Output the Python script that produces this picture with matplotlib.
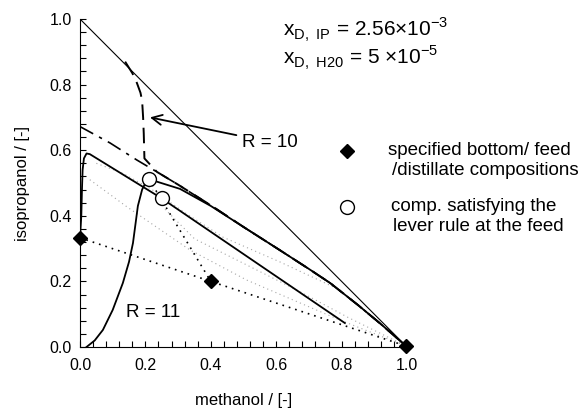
import matplotlib
matplotlib.use("Agg")
import matplotlib.pyplot as plt
from matplotlib.ticker import MultipleLocator, FormatStrFormatter

plt.rcParams['font.family'] = ['Liberation Sans', 'DejaVu Sans']
plt.rcParams['mathtext.fontset'] = 'custom'
plt.rcParams['mathtext.rm'] = 'Liberation Sans'

# ---- data ----
diag_x = [0.0, 1.0]
diag_y = [1.0, 0.0]

# R = 10 profile (dashed)
r10_x = [0.138, 0.16, 0.174, 0.185, 0.19, 0.193, 0.195, 0.197, 0.235, 0.30, 0.40, 0.50, 0.61, 0.70, 0.765, 0.85, 0.92, 0.997]
r10_y = [0.870, 0.835, 0.805, 0.775, 0.75, 0.70, 0.65, 0.575, 0.534, 0.495, 0.432, 0.366, 0.296, 0.238, 0.195, 0.128, 0.07, 0.003]

# dash-dot profile
dd_x = [0.0, 0.092, 0.174, 0.235, 0.30, 0.40, 0.50, 0.61, 0.70, 0.765, 0.85, 0.92, 0.997]
dd_y = [0.672, 0.622, 0.570, 0.534, 0.495, 0.432, 0.366, 0.296, 0.238, 0.195, 0.128, 0.07, 0.003]

# R = 11 stripping profile (solid)
r11s_x = [0.0, 0.004, 0.006, 0.008, 0.012, 0.02, 0.03, 0.25, 0.81]
r11s_y = [0.333, 0.40, 0.48, 0.54, 0.575, 0.59, 0.588, 0.453, 0.073]

# R = 11 rectifying profile (solid)
r11r_x = [0.02, 0.045, 0.07, 0.10, 0.131, 0.15, 0.162, 0.177, 0.19, 0.2, 0.211, 0.229, 0.306, 0.40, 0.50, 0.61, 0.70, 0.765, 0.85, 0.92, 0.997]
r11r_y = [0.0, 0.02, 0.052, 0.113, 0.195, 0.26, 0.317, 0.43, 0.48, 0.50, 0.512, 0.506, 0.482, 0.430, 0.366, 0.296, 0.238, 0.195, 0.128, 0.07, 0.003]

# mass balance line bottom - feed - distillate (black dotted)
mb_x = [0.0, 0.4, 0.997]
mb_y = [0.333, 0.2, 0.003]

# lever rule line (black dotted)
lev_x = [0.211, 0.4]
lev_y = [0.512, 0.2]

# faint grey dotted profiles
g1_x = [0.03, 0.144, 0.336, 0.51, 0.795, 0.997]
g1_y = [0.51, 0.427, 0.296, 0.204, 0.082, 0.003]
g2_x = [0.05, 0.13, 0.22, 0.32, 0.437, 0.61, 0.795, 0.997]
g2_y = [0.56, 0.53, 0.48, 0.41, 0.335, 0.26, 0.174, 0.003]
g3_x = [0.26, 0.35, 0.51, 0.67, 0.82, 0.997]
g3_y = [0.42, 0.33, 0.25, 0.17, 0.09, 0.003]

# specified compositions (diamonds)
spec_x = [0.0, 0.4, 0.997]
spec_y = [0.333, 0.2, 0.003]

# lever-rule compositions (open circles)
lever_x = [0.211, 0.25]
lever_y = [0.512, 0.453]

fig = plt.figure(figsize=(5.88, 4.11), dpi=100)
ax = fig.add_axes([80/588, 1-347/411, 327/588, 328/411])

ax.plot(diag_x, diag_y, color='black', lw=0.8)
for gx, gy in [(g1_x, g1_y), (g2_x, g2_y), (g3_x, g3_y)]:
    ax.plot(gx, gy, color='0.65', lw=0.8, linestyle=(0, (1, 3)))
ax.plot(mb_x, mb_y, color='black', lw=1.2, linestyle=(0, (1, 3)))
ax.plot(lev_x, lev_y, color='black', lw=1.2, linestyle=(0, (1, 3)))
ax.plot(dd_x, dd_y, color='black', lw=1.2, linestyle=(0, (9, 4, 2, 4)))
ax.plot(r10_x, r10_y, color='black', lw=1.4, linestyle=(0, (8, 4)))
ax.plot(r11s_x, r11s_y, color='black', lw=1.3)
ax.plot(r11r_x, r11r_y, color='black', lw=1.3)

ax.plot(spec_x, spec_y, linestyle='none', marker='D', color='black', markersize=7, clip_on=False, zorder=5)
ax.plot(lever_x, lever_y, linestyle='none', marker='o', markerfacecolor='white',
        markeredgecolor='black', markersize=10, markeredgewidth=1.0, clip_on=False, zorder=6)

ax.annotate('R = 10', xy=(0.214, 0.70), xytext=(0.495, 0.625), fontsize=13.5,
            va='center', ha='left',
            arrowprops=dict(arrowstyle='->', color='black', lw=1.3, mutation_scale=18, shrinkA=2, shrinkB=0))
ax.text(0.14, 0.104, 'R = 11', fontsize=13.5, va='center', ha='left')

ax.text(0.621, 0.966, r'x$_{\mathregular{D,\ IP}}$ = 2.56×10$^{\mathregular{-3}}$', fontsize=15,
        va='center', ha='left', clip_on=False)
ax.text(0.621, 0.881, r'x$_{\mathregular{D,\ H20}}$ = 5 ×10$^{\mathregular{-5}}$', fontsize=15,
        va='center', ha='left', clip_on=False)

ax.plot([0.817], [0.598], linestyle='none', marker='D', color='black', markersize=7, clip_on=False)
ax.text(0.942, 0.598, 'specified bottom/ feed', fontsize=13.5, va='center', ha='left', clip_on=False)
ax.text(0.954, 0.537, '/distillate compositions', fontsize=13.5, va='center', ha='left', clip_on=False)
ax.plot([0.817], [0.427], linestyle='none', marker='o', markerfacecolor='white',
        markeredgecolor='black', markersize=10, clip_on=False)
ax.text(0.951, 0.427, 'comp. satisfying the', fontsize=13.5, va='center', ha='left', clip_on=False)
ax.text(0.957, 0.366, 'lever rule at the feed', fontsize=13.5, va='center', ha='left', clip_on=False)

ax.set_xlim(0, 1)
ax.set_ylim(0, 1)
ax.spines['top'].set_visible(False)
ax.spines['right'].set_visible(False)
ax.xaxis.set_major_locator(MultipleLocator(0.2))
ax.yaxis.set_major_locator(MultipleLocator(0.2))
ax.xaxis.set_minor_locator(MultipleLocator(0.04))
ax.yaxis.set_minor_locator(MultipleLocator(0.04))
ax.tick_params(which='both', direction='in', length=4, width=0.8, labelsize=11.5)
ax.tick_params(axis='x', which='major', pad=8)
ax.tick_params(axis='y', which='major', pad=6)
ax.xaxis.set_major_formatter(FormatStrFormatter('%.1f'))
ax.yaxis.set_major_formatter(FormatStrFormatter('%.1f'))
ax.set_xlabel('methanol / [-]', fontsize=12, labelpad=14)
ax.set_ylabel('isopropanol / [-]', fontsize=12, labelpad=14)

fig.savefig('out.png', dpi=100)
